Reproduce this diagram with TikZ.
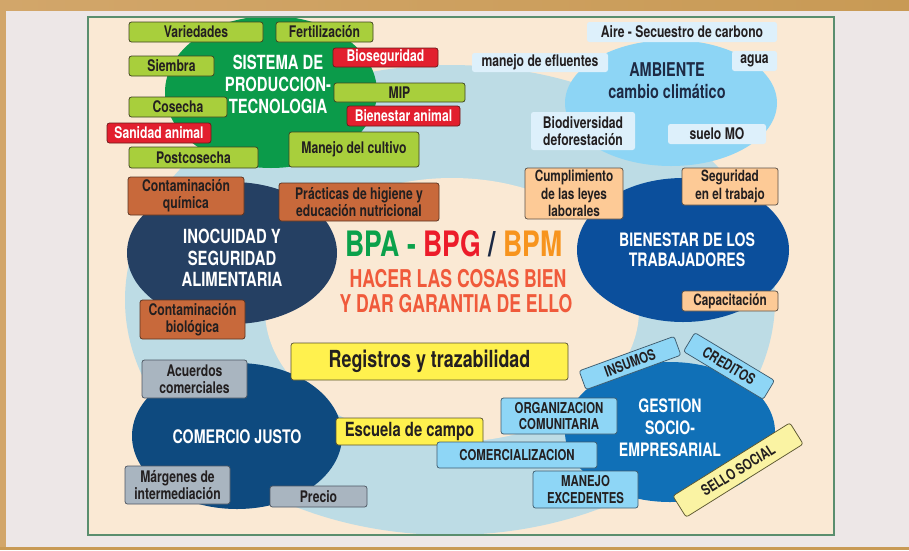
\documentclass[tikz,border=0pt]{standalone}
\usepackage{fontspec}
\setmainfont{TeX Gyre Heros}[FakeStretch=0.76]
\newfontfamily\condN{TeX Gyre Heros}[FakeStretch=0.72]
\definecolor{panel}{HTML}{EDE7E7}
\definecolor{goldA}{HTML}{D2A66A}
\definecolor{goldB}{HTML}{C89A55}
\definecolor{beige}{HTML}{FAE9D4}
\definecolor{framegreen}{HTML}{5A8E6E}
\definecolor{ring}{HTML}{BDDCE5}
\definecolor{sysgreen}{HTML}{0B9B4A}
\definecolor{ambblue}{HTML}{8DD5F5}
\definecolor{inonavy}{HTML}{254063}
\definecolor{bienblue}{HTML}{0B4F9C}
\definecolor{comblue}{HTML}{0E4A7F}
\definecolor{gesblue}{HTML}{1070B7}
\definecolor{lime}{HTML}{A8CF3C}
\definecolor{limeline}{HTML}{3F4420}
\definecolor{redbox}{HTML}{E21F2E}
\definecolor{redline}{HTML}{6B1A1A}
\definecolor{ambbox}{HTML}{DDF0FB}
\definecolor{brownbox}{HTML}{C8693B}
\definecolor{brownline}{HTML}{5B3422}
\definecolor{peach}{HTML}{FDCA96}
\definecolor{peachline}{HTML}{5C5147}
\definecolor{greybox}{HTML}{A9B5C0}
\definecolor{greyline}{HTML}{4E5763}
\definecolor{yel}{HTML}{FFF14E}
\definecolor{yelline}{HTML}{5A5530}
\definecolor{sello}{HTML}{FAF3A3}
\definecolor{lblue}{HTML}{8ED6F6}
\definecolor{lblueline}{HTML}{3F5C6E}
\definecolor{ink}{HTML}{231F20}
\definecolor{bpagreen}{HTML}{0BA14B}
\definecolor{bpgred}{HTML}{EC1C2A}
\definecolor{bpmorange}{HTML}{F7941E}
\definecolor{slashc}{HTML}{1B2944}
\definecolor{hacer}{HTML}{F05A3B}
\definecolor{ambtext}{HTML}{1E2A44}
\tikzset{
 bx/.style={rounded corners=2.5pt, line width=0.75pt, align=center, inner sep=0pt, text=ink, font=\bfseries\fontsize{16}{17}\selectfont},
 sz/.style 2 args={minimum width=#1pt, minimum height=#2pt},
 gbox/.style={bx, fill=lime, draw=limeline},
 rbox/.style={bx, fill=redbox, draw=redline, text=white},
 abox/.style={bx, fill=ambbox, draw=none},
 obox/.style={bx, fill=brownbox, draw=brownline},
 pbox/.style={bx, fill=peach, draw=peachline},
 sbox/.style={bx, fill=greybox, draw=greyline},
 ybox/.style={bx, fill=yel, draw=yelline},
 lbox/.style={bx, fill=lblue, draw=lblueline, font=\bfseries\fontsize{15}{16.5}\selectfont},
 ttl/.style={align=center, text=white, inner sep=0pt, font=\bfseries\fontsize{19.5}{22}\selectfont},
}
\begin{document}
\begin{tikzpicture}[x=1pt,y=-1pt]
\useasboundingbox (0,0) rectangle (909,550);
% outer background
\fill[panel] (0,0) rectangle (909,550);
\shade[left color=goldA, right color=goldB] (0,0) rectangle (909,10);
\fill[goldA] (0,0) rectangle (6,550);
\fill[goldB] (0,547) rectangle (909,550);
% frame
\fill[beige] (88,17) rectangle (834,535);
\begin{scope}
\clip (88,17) rectangle (834,535);
\fill[ring] (450,300) ellipse [x radius=325pt, y radius=235pt];
\fill[beige] (452,310) ellipse [x radius=187pt, y radius=132pt];
\fill[sysgreen] (271,92) ellipse [x radius=106pt, y radius=76pt];
\fill[ambblue] (671,103) ellipse [x radius=106pt, y radius=63pt];
\fill[inonavy] (232,253) ellipse [x radius=105pt, y radius=71pt];
\fill[bienblue] (683,250) ellipse [x radius=106pt, y radius=72pt];
\fill[comblue] (237,436) ellipse [x radius=105pt, y radius=73pt];
\fill[gesblue] (670,432) ellipse [x radius=105pt, y radius=70pt];
\end{scope}
\draw[framegreen, line width=1.3pt] (88,17) rectangle (834,535);

% Sistema de produccion
\node[ttl] (sys) at (278,84) {SISTEMA DE\\PRODUCCION-\\TECNOLOGIA};
\node[gbox, sz={134}{20}] (var) at (196,32) {Variedades};
\node[gbox, sz={97}{20}] (fer) at (324.5,32) {Fertilización};
\node[gbox, sz={85}{20}] (sie) at (171.5,66) {Siembra};
\node[rbox, sz={105}{19}] (bio) at (385.5,57.5) {Bioseguridad};
\node[gbox, sz={131}{19}] (mip) at (399.5,92.5) {MIP};
\node[rbox, sz={113}{20}] (ban) at (403.5,116) {Bienestar animal};
\node[gbox, sz={98}{20}] (cos) at (178,107) {Cosecha};
\node[rbox, sz={104}{20}] (san) at (159,133) {Sanidad animal};
\node[gbox, sz={129}{21}] (pos) at (193.5,157.5) {Postcosecha};
\node[gbox, sz={130}{35}] (man) at (354,149.5) {Manejo del cultivo};

% Ambiente
\node[align=center, inner sep=0pt, text=ambtext, font=\bfseries\fontsize{19}{22}\selectfont] (amb) at (667,81) {AMBIENTE\\cambio climático};
\node[abox, sz={190}{20}] (aire) at (682,32) {Aire - Secuestro de carbono};
\node[abox, sz={136}{19}] (efl) at (540,62.5) {manejo de efluentes};
\node[abox, sz={45}{20}] (agua) at (754.5,61) {agua};
\node[abox, sz={104}{38}] (biod) at (583,131) {Biodiversidad\\deforestación};
\node[abox, sz={98}{20}] (suelo) at (717,134) {suelo MO};

% Inocuidad
\node[ttl, font=\bfseries\fontsize{19.5}{21.5}\selectfont] (ino) at (232,258) {INOCUIDAD Y\\SEGURIDAD\\ALIMENTARIA};
\node[obox, sz={116}{38}] (cq) at (186,196) {Contaminación\\química};
\node[obox, sz={160}{38}] (ph) at (359,202) {Prácticas de higiene y\\educación nutricional};
\node[obox, sz={105}{39}] (cb) at (192.5,319.5) {Contaminación\\biológica};

% Bienestar
\node[ttl, font=\bfseries\fontsize{18.5}{20}\selectfont] (bien) at (687,250) {BIENESTAR DE LOS\\TRABAJADORES};
\node[pbox, sz={98}{51}, font=\bfseries\fontsize{15.5}{17.5}\selectfont] (cum) at (574,193.5) {Cumplimiento\\de las leyes\\laborales};
\node[pbox, sz={96}{37}, font=\bfseries\fontsize{15.5}{17.5}\selectfont] (seg) at (730,186.5) {Seguridad\\en el trabajo};
\node[pbox, sz={96}{20}, font=\bfseries\fontsize{15.5}{17.5}\selectfont] (capa) at (730,301) {Capacitación};

% center
\node[inner sep=0pt, font=\bfseries\fontsize{35}{40}\selectfont] (bpa) at (454,244) {\textcolor{bpagreen}{BPA - }\textcolor{bpgred}{BPG}~\textcolor{slashc}{/}~\textcolor{bpmorange}{BPM}};
\node[inner sep=0pt, text=hacer, font=\condN\bfseries\fontsize{24.5}{26}\selectfont] (hac) at (458,279) {HACER LAS COSAS BIEN};
\node[inner sep=0pt, text=hacer, font=\condN\bfseries\fontsize{24.5}{26}\selectfont] (dar) at (456,304) {Y DAR GARANTIA DE ELLO};
\node[ybox, sz={277}{37}, font=\bfseries\fontsize{23.5}{25}\selectfont] (reg) at (429.5,361.5) {Registros y trazabilidad};

% Comercio justo
\node[ttl, font=\bfseries\fontsize{18.7}{20}\selectfont] (com) at (237,437) {COMERCIO JUSTO};
\node[sbox, sz={105}{38}] (acu) at (194.5,379) {Acuerdos\\comerciales};
\node[ybox, sz={147}{27}, font=\bfseries\fontsize{19.5}{20}\selectfont] (esc) at (409.5,431.5) {Escuela de campo};
\node[sbox, sz={105}{38}] (mar) at (177.5,485) {Márgenes de\\intermediación};
\node[sbox, sz={97}{21}] (pre) at (318.5,496.5) {Precio};

% Gestion
\node[ttl, font=\bfseries\fontsize{18.5}{22}\selectfont] (ges) at (670,428) {GESTION\\SOCIO-\\EMPRESARIAL};
\node[lbox, sz={101}{20}, rotate=20] (ins) at (630,363) {INSUMOS};
\node[lbox, sz={93}{22}, rotate=-31] (cre) at (729,366) {CREDITOS};
\node[lbox, sz={116}{36}] (org) at (559,416) {ORGANIZACION\\COMUNITARIA};
\node[lbox, sz={160}{26}] (comz) at (517,455) {COMERCIALIZACION};
\node[lbox, sz={105}{37}] (mex) at (585.5,489.5) {MANEJO\\EXCEDENTES};
\node[bx, fill=sello, draw=yelline, sz={138}{25}, rotate=32, font=\bfseries\fontsize{15}{16}\selectfont] (sel) at (738,470) {SELLO SOCIAL};
\end{tikzpicture}
\end{document}
